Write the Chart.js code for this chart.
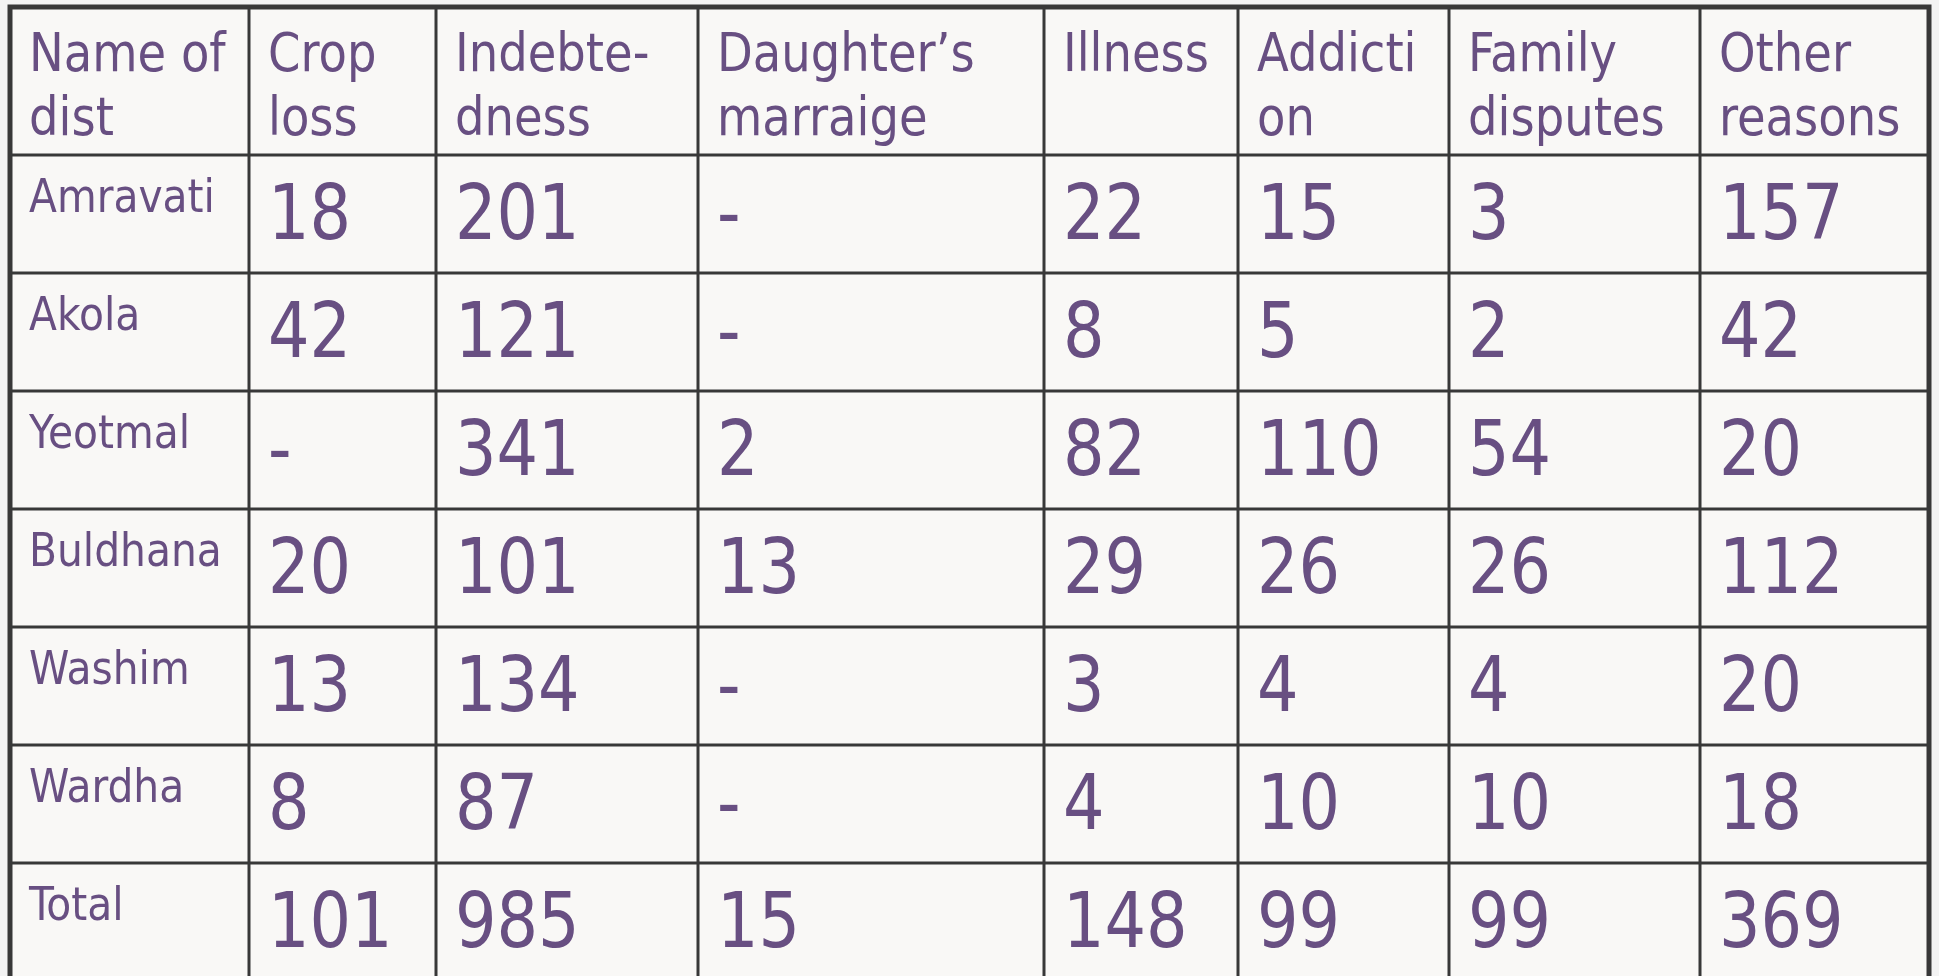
<!DOCTYPE html>
<html>
<head>
<meta charset="utf-8">
<script src="https://cdn.jsdelivr.net/npm/chart.js@4/dist/chart.umd.min.js"></script>
<style>
  html, body { margin: 0; padding: 0; background: #f3f3f3; overflow: hidden; }
  #wrap { position: relative; width: 1939px; height: 1000px; }
</style>
</head>
<body>
<div id="wrap"><canvas id="suicideTable"></canvas></div>
<script>
// header labels (each cell wraps onto two lines like the slide)
const headers = [
  ['Name of', 'dist'],
  ['Crop', 'loss'],
  ['Indebte-', 'dness'],
  ['Daughter\u2019s', 'marraige'],
  ['Illness'],
  ['Addicti', 'on'],
  ['Family', 'disputes'],
  ['Other', 'reasons']
];
const districts = ['Amravati', 'Akola', 'Yeotmal', 'Buldhana', 'Washim', 'Wardha', 'Total'];

// null = "-" in the table
const cropLoss       = [18, 42, null, 20, 13, 8, 101];
const indebtedness   = [201, 121, 341, 101, 134, 87, 985];
const daughtersMarr  = [null, null, 2, 13, null, null, 15];
const illness        = [22, 8, 82, 29, 3, 4, 148];
const addiction      = [15, 5, 110, 26, 4, 10, 99];
const familyDisputes = [3, 2, 54, 26, 4, 10, 99];
const otherReasons   = [157, 42, 20, 112, 20, 18, 369];

const series = [cropLoss, indebtedness, daughtersMarr, illness, addiction, familyDisputes, otherReasons];

// layout (scale units)
const colWidths = [239, 187, 262, 346, 194, 211, 251, 229];
const headerHeight = 148;
const rowHeight = 118;

const colLeft = [0];
colWidths.forEach((w, i) => colLeft.push(colLeft[i] + w));
const rowTop = i => headerHeight + i * rowHeight;
const totalW = colLeft[colLeft.length - 1];
const totalH = rowTop(districts.length);

const textColor = '#684f82';
const lineColor = '#383838';
const family = '"DejaVu Sans Condensed", "DejaVu Sans", sans-serif';

// one dataset per reason column, each point sits at the cell's top-left corner
const datasets = series.map((vals, c) => ({
  label: headers[c + 1].join(' '),
  data: vals.map((v, r) => ({ x: colLeft[c + 1], y: rowTop(r), v: v })),
  pointRadius: 0,
  pointHoverRadius: 0
}));

// text squeezed a little horizontally, the slide font is narrower than DejaVu
function squeezed(ctx, txt, x, y, sx) {
  ctx.save();
  ctx.translate(x, y);
  ctx.scale(sx, 1);
  ctx.fillText(txt, 0, 0);
  ctx.restore();
}

const tablePlugin = {
  id: 'tablePlugin',
  beforeDraw(chart) {
    const { ctx, chartArea: a } = chart;
    ctx.save();
    ctx.fillStyle = '#f9f8f6';
    ctx.fillRect(a.left, a.top, a.right - a.left, a.bottom - a.top);
    ctx.restore();
  },
  afterDatasetsDraw(chart) {
    const { ctx, chartArea: a } = chart;
    const xs = chart.scales.x, ys = chart.scales.y;
    ctx.save();
    ctx.fillStyle = textColor;
    ctx.textBaseline = 'alphabetic';
    ctx.textAlign = 'left';
    const pad = 19;

    // header row
    ctx.font = '53px ' + family;
    headers.forEach((lines, c) => {
      const x = xs.getPixelForValue(colLeft[c]) + pad;
      const top = ys.getPixelForValue(0);
      lines.forEach((t, k) => squeezed(ctx, t, x, top + 64 + k * 64, 0.975));
    });

    // district names
    ctx.font = '47px ' + family;
    districts.forEach((d, r) => {
      squeezed(ctx, d, xs.getPixelForValue(0) + pad, ys.getPixelForValue(rowTop(r)) + 57, 0.965);
    });

    // values
    ctx.font = '76px ' + family;
    chart.data.datasets.forEach(ds => {
      ds.data.forEach(p => {
        const txt = p.v === null ? '-' : String(p.v);
        squeezed(ctx, txt, xs.getPixelForValue(p.x) + pad, ys.getPixelForValue(p.y) + 84, 0.955);
      });
    });

    // grid lines
    ctx.strokeStyle = lineColor;
    ctx.lineWidth = 3;
    for (let c = 1; c < colLeft.length - 1; c++) {
      const x = xs.getPixelForValue(colLeft[c]);
      ctx.beginPath(); ctx.moveTo(x, a.top); ctx.lineTo(x, a.bottom); ctx.stroke();
    }
    for (let r = 0; r < districts.length; r++) {
      const y = ys.getPixelForValue(rowTop(r));
      ctx.beginPath(); ctx.moveTo(a.left, y); ctx.lineTo(a.right, y); ctx.stroke();
    }
    ctx.lineWidth = 5;
    ctx.strokeRect(a.left, a.top, a.right - a.left, a.bottom - a.top);
    ctx.restore();
  }
};

new Chart(document.getElementById('suicideTable'), {
  type: 'scatter',
  data: { datasets: datasets },
  options: {
    responsive: true,
    maintainAspectRatio: false,
    animation: false,
    events: [],
    layout: { padding: { left: 10, right: 10, top: 7, bottom: 19 } },
    plugins: { legend: { display: false }, tooltip: { enabled: false } },
    scales: {
      x: { type: 'linear', min: 0, max: totalW, display: false },
      y: { type: 'linear', min: 0, max: totalH, reverse: true, display: false }
    }
  },
  plugins: [tablePlugin]
});
</script>
</body>
</html>
